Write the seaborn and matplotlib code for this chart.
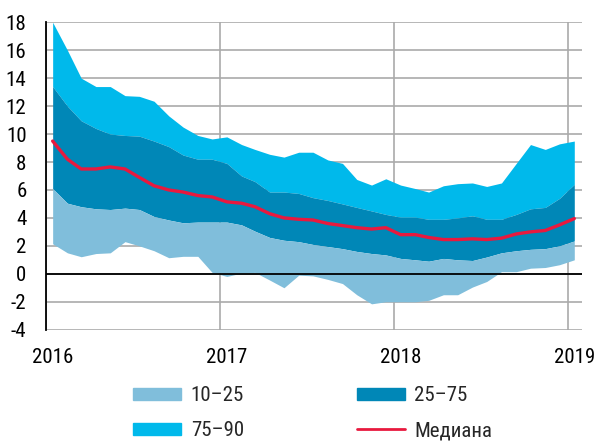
import matplotlib
matplotlib.use("Agg")
import matplotlib.pyplot as plt
from matplotlib import font_manager as fm
from matplotlib.patches import Patch
from matplotlib.lines import Line2D
import seaborn as sns
import pandas as pd

# ---- data ----
start_month = "2016-01-01"
end_month = "2019-01-01"
p90 = [18.0, 16.0, 14.0, 13.4, 13.4, 12.75, 12.7, 12.35, 11.3, 10.5, 9.9, 9.65,
       9.8, 9.25, 8.9, 8.55, 8.35, 8.7, 8.7, 8.15, 7.9, 6.75, 6.35, 6.8,
       6.35, 6.1, 5.85, 6.3, 6.45, 6.5, 6.25, 6.5, 7.9, 9.25, 8.9, 9.3, 9.5]
p75 = [13.4, 12.0, 10.95, 10.4, 10.0, 9.9, 9.85, 9.5, 9.1, 8.5, 8.2, 8.2,
       7.9, 7.0, 6.6, 5.85, 5.85, 5.75, 5.45, 5.25, 5.0, 4.75, 4.5, 4.25,
       4.05, 4.05, 3.9, 3.9, 4.0, 4.15, 3.9, 3.9, 4.25, 4.65, 4.75, 5.4, 6.4]
median = [9.5, 8.2, 7.5, 7.5, 7.65, 7.5, 6.9, 6.3, 6.0, 5.85, 5.6, 5.5,
          5.15, 5.05, 4.8, 4.3, 4.0, 3.9, 3.85, 3.6, 3.45, 3.3, 3.2, 3.3,
          2.8, 2.8, 2.6, 2.45, 2.45, 2.5, 2.45, 2.55, 2.85, 3.0, 3.1, 3.5, 3.95]
p25 = [6.1, 5.05, 4.8, 4.65, 4.6, 4.7, 4.6, 4.1, 3.85, 3.65, 3.7, 3.7,
       3.7, 3.5, 3.05, 2.6, 2.4, 2.3, 2.1, 1.95, 1.8, 1.6, 1.45, 1.35,
       1.1, 1.0, 0.9, 1.1, 1.0, 0.95, 1.2, 1.5, 1.65, 1.75, 1.8, 2.0, 2.35]
p10 = [2.15, 1.5, 1.22, 1.45, 1.5, 2.3, 2.0, 1.65, 1.15, 1.25, 1.25, 0.1,
       -0.19, 0.05, 0.1, -0.45, -1.0, -0.1, -0.15, -0.4, -0.7, -1.5, -2.15, -2.0,
       -2.0, -2.0, -1.9, -1.5, -1.5, -0.95, -0.55, 0.15, 0.15, 0.4, 0.45, 0.65, 1.0]
year_labels = ["2016", "2017", "2018", "2019"]
legend_labels = ["10\u201325", "25\u201375", "75\u201390", "Медиана"]

dates = pd.date_range(start_month, end_month, freq="MS") + pd.Timedelta(days=14)
df = pd.DataFrame({"date": dates, "p10": p10, "p25": p25, "median": median,
                   "p75": p75, "p90": p90})

c_light = "#80bedb"
c_dark = "#0087b7"
c_cyan = "#00b9eb"
c_red = "#e8193e"

sns.set_style("white")
plt.rcParams["axes.unicode_minus"] = False


def pick_narrow_font():
    prefs = ["liberationsansnarrow-regular", "robotocondensed-regular",
             "opensanscondensed", "dejavusanscondensed.ttf", "notosans-condensed",
             "condensed", "narrow"]
    files = [f.fname for f in fm.fontManager.ttflist]
    for p in prefs:
        for f in files:
            low = f.lower().replace(" ", "")
            base = low.split("/")[-1]
            if p in base and "bold" not in base and "italic" not in base \
                    and "oblique" not in base and "light" not in base:
                return f
    return None


narrow = pick_narrow_font()
FS = 15
if narrow:
    fp = fm.FontProperties(fname=narrow, size=FS)
else:
    fp = fm.FontProperties(family=["Roboto", "DejaVu Sans"], size=FS - 1)

fig = plt.figure(figsize=(5.95, 4.43), dpi=100)
ax = fig.add_axes([0.0773, 0.2558, 0.9007, 0.6939])

ax.fill_between(df["date"], df["p75"], df["p90"], color=c_cyan, lw=0, zorder=2)
ax.fill_between(df["date"], df["p25"], df["p75"], color=c_dark, lw=0, zorder=2)
ax.fill_between(df["date"], df["p10"], df["p25"], color=c_light, lw=0, zorder=2)
sns.lineplot(data=df, x="date", y="median", color=c_red, lw=2.4, ax=ax, zorder=4)
ax.axhline(0, color="black", lw=1.3, zorder=3)

ax.set_ylim(-4, 18)
ax.set_yticks(range(-4, 19, 2))
ax.set_yticklabels([str(v) for v in range(-4, 19, 2)])
ax.set_xlim(pd.Timestamp("2016-01-01"), pd.Timestamp("2019-01-31"))
year_starts = [pd.Timestamp(f"{y}-01-01") for y in year_labels]
label_pos = [pd.Timestamp(f"{y}-01-15") for y in year_labels]
ax.set_xticks(label_pos)
ax.set_xticklabels(year_labels)
ax.set_xticks(year_starts, minor=True)
ax.yaxis.grid(True, color="#aaaaaa", lw=1.2, zorder=0)
ax.xaxis.grid(True, which="minor", color="#aaaaaa", lw=1.2, zorder=0)
ax.xaxis.grid(False, which="major")
ax.set_axisbelow(True)
ax.set_xlabel("")
ax.set_ylabel("")
for s in ["top", "right", "bottom"]:
    ax.spines[s].set_visible(False)
ax.spines["left"].set_color("black")
ax.spines["left"].set_linewidth(1.3)
ax.tick_params(axis="both", which="both", length=0, colors="black")
ax.tick_params(axis="y", pad=14)
ax.tick_params(axis="x", pad=13)
for lbl in ax.get_xticklabels() + ax.get_yticklabels():
    lbl.set_fontproperties(fp)

handles = [Patch(color=c_light), Patch(color=c_cyan), Patch(color=c_dark),
           Line2D([0], [0], color=c_red, lw=2)]
labels = [legend_labels[0], legend_labels[2], legend_labels[1], legend_labels[3]]
fig.legend(handles, labels, ncol=2, loc="upper left",
           bbox_to_anchor=(123 / 595, 1 - 376 / 443),
           frameon=False, prop=fp, borderpad=0, handlelength=2.3,
           handleheight=0.5, handletextpad=0.45, columnspacing=5.4,
           labelspacing=0.75)

fig.savefig("out.png", dpi=100)
